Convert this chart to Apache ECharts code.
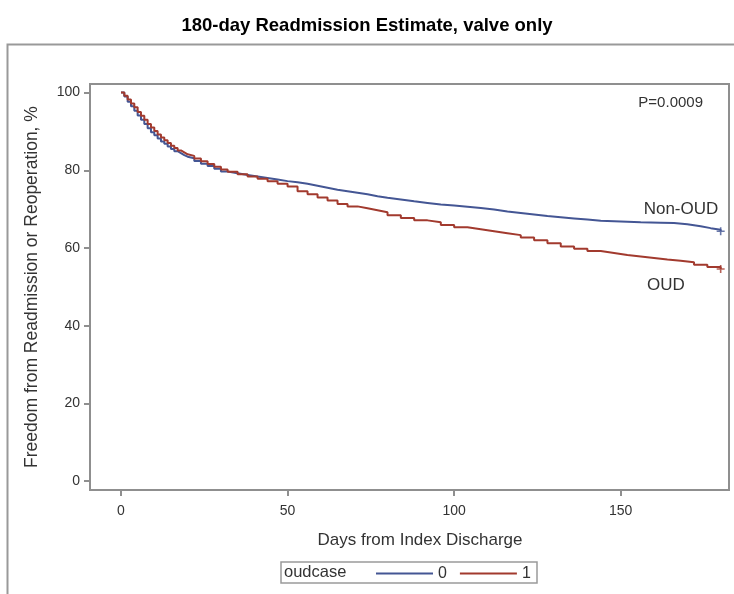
<!DOCTYPE html>
<html>
<head>
<meta charset="utf-8">
<script src="https://cdn.jsdelivr.net/npm/echarts@6/dist/echarts.min.js"></script>
<style>
html,body{margin:0;padding:0;background:#fff;}
#chart{width:734px;height:594px;}
</style>
</head>
<body>
<div id="chart"></div>
<script>
// ---- data ----
const titleText = '180-day Readmission Estimate, valve only';
const xTicks = [0, 50, 100, 150];
const yTicks = [0, 20, 40, 60, 80, 100];
const groupNames = ['0', '1'];
const groupLabels = ['Non-OUD', 'OUD'];
const legendTitle = 'oudcase';
const pValueText = 'P=0.0009';

// Non-OUD (oudcase = 0): [day, survival %]
const days0 = [0,1,2,3,4,5,6,7,8,9,10,11,12,13,14,15,16,17,18,19,20,22,24,26,28,30,32,35,38,41,44,47,50,53,56,59,62,65,68,71,74,77,80,84,88,92,96,100,104,108,112,116,120,124,128,132,136,140,144,150,156,162,166,170,174,177,180];
const surv0 = [100,99.0,97.6,96.5,95.3,94.1,93.0,91.9,90.8,89.8,89.0,88.2,87.4,86.8,86.1,85.5,84.9,84.4,83.9,83.5,83.1,82.4,81.7,81.1,80.4,79.7,79.2,78.8,78.4,78.0,77.6,77.2,76.9,76.5,76.0,75.5,75.0,74.6,74.2,73.8,73.3,72.9,72.5,72.0,71.6,71.2,70.9,70.6,70.3,69.9,69.4,69.0,68.6,68.2,67.9,67.6,67.3,67.0,66.8,66.6,66.5,66.4,66.1,65.6,65.1,64.7,64.3];
// OUD (oudcase = 1)
const days1 = [0,1,2,3,4,5,6,7,8,9,10,11,12,13,14,15,16,17,18,19,20,22,24,26,28,30,32,35,38,41,44,47,50,53,56,59,62,65,68,71,74,77,80,84,88,92,96,100,104,108,112,116,120,124,128,132,136,140,144,148,152,156,160,164,168,172,176,180];
const surv1 = [100,99.2,98.2,97.2,96.2,95.0,94.0,93.0,91.9,91.0,90.1,89.2,88.4,87.7,87.0,86.3,85.7,85.1,84.6,84.1,83.7,83.0,82.3,81.6,80.9,80.2,79.6,79.0,78.4,77.8,77.2,76.5,75.8,74.6,73.8,73.0,72.2,71.3,70.7,70.2,69.7,69.2,68.4,67.7,67.1,66.6,65.9,65.3,64.8,64.3,63.8,63.3,62.7,62.0,61.2,60.4,59.8,59.2,58.7,58.2,57.8,57.4,57.0,56.7,56.3,55.7,55.1,54.6];

const colors = ['#445694', '#A23A2E'];

function hasFont(f){
  const c = document.createElement('canvas').getContext('2d');
  c.font = 'bold 40px monospace';
  const a = c.measureText('abcdefgWMil').width;
  c.font = "bold 40px '" + f + "', monospace";
  return c.measureText('abcdefgWMil').width !== a;
}
const narrow = hasFont('Liberation Sans Narrow');
const titleFont = narrow ? 'Liberation Sans Narrow' : 'Liberation Sans';
const titleSize = narrow ? 22 : 18.5;

const FONT = 'Liberation Sans, Arial, sans-serif';
const gridL = 90, gridT = 84, gridR = 729, gridB = 490;

const chart = echarts.init(document.getElementById('chart'), null, {renderer: 'canvas'});

function pairs(d, s){ return d.map((x, i) => [x, s[i]]); }

const plusPath = 'path://M4,0h2v4h4v2h-4v4h-2v-4h-4v-2h4z';

const series = [
  {name: groupNames[0], type: 'line', step: 'end', data: pairs(days0, surv0), showSymbol: false, symbol: 'none',
   lineStyle: {color: colors[0], width: 2}, itemStyle: {color: colors[0]}, z: 3},
  {name: groupNames[1], type: 'line', step: 'end', data: pairs(days1, surv1), showSymbol: false, symbol: 'none',
   lineStyle: {color: colors[1], width: 2}, itemStyle: {color: colors[1]}, z: 4},
  {name: 'censor0', type: 'scatter', data: [[days0[days0.length-1], surv0[surv0.length-1]]],
   symbol: plusPath, symbolSize: 8, itemStyle: {color: colors[0]}, z: 5},
  {name: 'censor1', type: 'scatter', data: [[days1[days1.length-1], surv1[surv1.length-1]]],
   symbol: plusPath, symbolSize: 8, itemStyle: {color: colors[1]}, z: 5}
];

const option = {
  animation: false,
  backgroundColor: '#fff',
  title: {
    text: titleText, left: 'center', top: 11,
    textStyle: {fontFamily: titleFont, fontWeight: 'bold', fontSize: titleSize, color: '#000'}
  },
  grid: {left: gridL, top: gridT, width: gridR - gridL, height: gridB - gridT,
         show: true, borderColor: '#8f8f8f', borderWidth: 2, backgroundColor: '#fff'},
  xAxis: {
    type: 'value', min: -9.3, max: 182.5,
    axisLine: {show: true, onZero: false, lineStyle: {color: '#8f8f8f', width: 2}},
    axisTick: {show: true, length: 6, lineStyle: {color: '#8f8f8f', width: 2},
               customValues: xTicks},
    axisLabel: {fontFamily: FONT, fontSize: 14, color: '#333', margin: 14, customValues: xTicks},
    splitLine: {show: false}
  },
  yAxis: {
    type: 'value', min: -2.3, max: 102.2,
    axisLine: {show: true, onZero: false, lineStyle: {color: '#8f8f8f', width: 2}},
    axisTick: {show: true, length: 6, lineStyle: {color: '#8f8f8f', width: 2},
               customValues: yTicks},
    axisLabel: {fontFamily: FONT, fontSize: 14, color: '#333', margin: 10, customValues: yTicks},
    splitLine: {show: false}
  },
  legend: {
    data: groupNames,
    left: 376, top: 565.5, padding: 0,
    itemWidth: 57, itemHeight: 14, itemGap: 13,
    icon: 'path://M0,6h57v2h-57z',
    textStyle: {fontFamily: FONT, fontSize: 16, color: '#333'},
    selectedMode: false
  },
  graphic: [
    {type: 'rect', shape: {x: 7.5, y: 44.5, width: 760, height: 600}, silent: true, z: -10,
     style: {fill: null, stroke: '#999', lineWidth: 2}},
    {type: 'rect', shape: {x: 281, y: 562, width: 256, height: 21}, silent: true,
     style: {fill: null, stroke: '#9a9a9a', lineWidth: 1.5}},
    {type: 'text', x: 284, y: 572.5, silent: true,
     style: {text: legendTitle, font: '16.5px ' + FONT, fill: '#333', textAlign: 'left', textVerticalAlign: 'middle'}},
    {type: 'text', x: 420, y: 540, silent: true,
     style: {text: 'Days from Index Discharge', font: '17px ' + FONT, fill: '#333', textAlign: 'center', textVerticalAlign: 'middle'}},
    {type: 'text', x: 32, y: 287, rotation: Math.PI / 2, silent: true,
     style: {text: 'Freedom from Readmission or Reoperation, %', font: '17.5px ' + FONT, fill: '#333', textAlign: 'center', textVerticalAlign: 'middle'}},
    {type: 'text', x: 703, y: 103, silent: true,
     style: {text: pValueText, font: '15px ' + FONT, fill: '#333', textAlign: 'right', textVerticalAlign: 'middle'}},
    {type: 'text', x: 681, y: 209, silent: true,
     style: {text: groupLabels[0], font: '17px ' + FONT, fill: '#333', textAlign: 'center', textVerticalAlign: 'middle'}},
    {type: 'text', x: 666, y: 285, silent: true,
     style: {text: groupLabels[1], font: '17px ' + FONT, fill: '#333', textAlign: 'center', textVerticalAlign: 'middle'}}
  ],
  series: series
};
chart.setOption(option);
</script>
</body>
</html>
